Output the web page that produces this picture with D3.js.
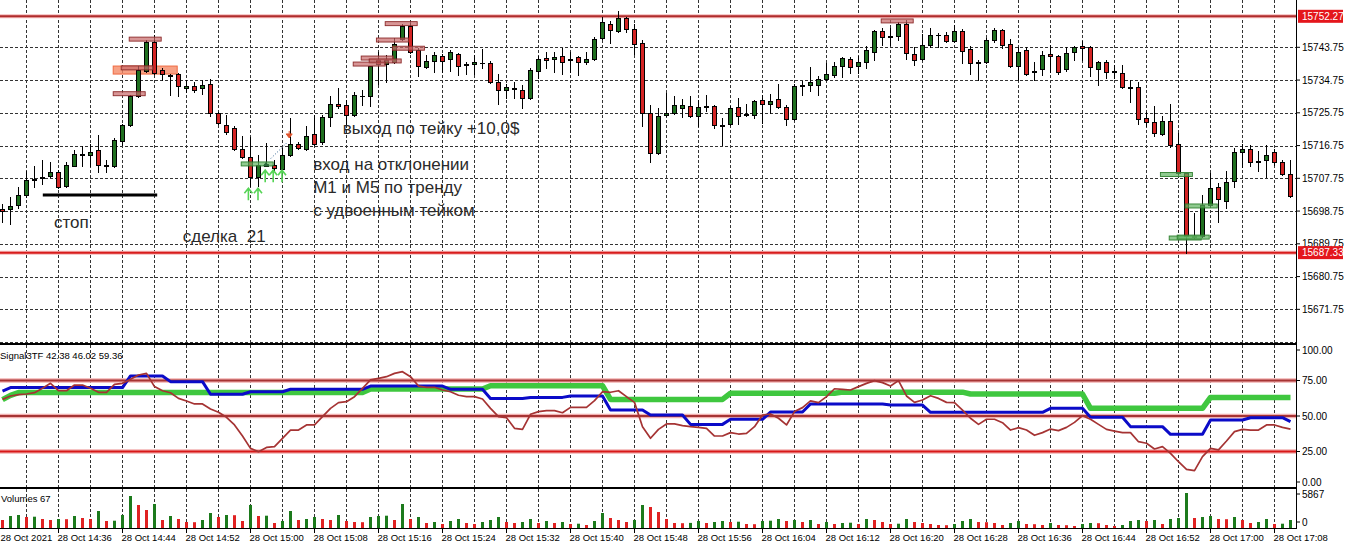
<!DOCTYPE html>
<html>
<head>
<meta charset="utf-8">
<script src="https://cdn.jsdelivr.net/npm/d3@7"></script>
<style>
body { margin: 0; background: #fff; overflow: hidden; }
</style>
</head>
<body>
<div id="chart"></div>
<script>
// M1 bars, 28 Oct 2021, 14:29 .. 17:10
var startTime = new Date(2021, 9, 28, 14, 29);

// [open, high, low, close]
var ohlc = [
[15699.25,15700.75,15695.75,15698.75],[15699.25,15702.75,15695.25,15700.25],[15700.5,15705.5,15699.5,15703.25],[15703.25,15709.75,15702.75,15707.25],
[15707.25,15711,15705.5,15707.5],[15707.75,15712.75,15706.25,15708],[15708.5,15712.25,15708.25,15709.5],[15709.5,15710,15705,15705.25],
[15705.75,15712.25,15705.5,15711.5],[15711.25,15715.5,15711,15714.5],[15714.25,15716.75,15711.25,15714.5],[15714.25,15717.25,15711,15715],
[15715.5,15719.75,15709.5,15711.5],[15711.5,15712.75,15709.5,15711],[15711,15718.75,15710.75,15718.25],[15718,15722.75,15717,15722.5],
[15722.5,15730.75,15722.25,15730.25],[15730.25,15738.5,15730,15737.5],[15737.25,15745.75,15737,15745.25],[15745.25,15747.25,15736.5,15736.75],
[15737.5,15738,15734.75,15736.5],[15736.25,15736.5,15730.75,15736],[15736.5,15736.75,15730.25,15733.25],[15732.5,15734.75,15731.5,15733.25],
[15733.25,15734.25,15731.5,15732],[15732.5,15734.75,15731,15733.5],[15733.75,15735,15724.75,15725.75],[15725.75,15726,15722.75,15723],
[15722.5,15725.25,15720,15720.5],[15721.5,15722,15715.5,15715.75],[15715.75,15719.25,15713.25,15713.5],[15713.5,15719,15705.75,15708],
[15708,15714.25,15705.75,15711.5],[15711.25,15717.5,15711,15711.75],[15711.5,15712.75,15710,15710.5],[15710.25,15716,15708.75,15714.25],
[15714.25,15724.25,15714,15717.25],[15717.25,15717.75,15715.75,15716],[15715.75,15722,15715.5,15719.5],[15720,15725.25,15717,15717.25],
[15717.75,15725.25,15717.25,15724.5],[15724.5,15730.25,15722,15728.25],[15728.25,15732.5,15727,15727.5],[15728,15729.25,15722.5,15725.25],
[15725.25,15731.5,15725,15730.75],[15730.25,15732,15728,15730.5],[15730.25,15738.75,15727.75,15738.5],[15740.25,15742.5,15733.75,15739.25],
[15739.25,15741.75,15734.25,15740.25],[15739.75,15746.25,15739.5,15744.75],[15746,15750.25,15745.75,15749.5],[15749.5,15750.5,15742.25,15742.5],
[15743,15743.5,15735.75,15738.75],[15738.25,15741.75,15738,15740],[15740,15742.5,15737,15741.5],[15741.25,15742,15737,15740],
[15740.5,15743,15737.25,15742.5],[15742,15742.25,15736.25,15738.75],[15739.25,15739.75,15736.5,15739],[15739.25,15741.75,15736.5,15739.75],
[15739.5,15743.25,15738,15739.5],[15739.5,15740,15734,15734.25],[15734.25,15736.5,15728.25,15732],[15732,15733.75,15729.75,15732.75],
[15732.25,15734.25,15729.75,15732.5],[15732,15733.5,15727,15729.75],[15729.75,15738,15729.5,15737.5],[15737.25,15741.25,15735.25,15740.5],
[15740.75,15742.5,15738,15740.25],[15740.5,15742.5,15737,15741],[15741.25,15743.5,15736.5,15739.75],[15740.25,15742.5,15737,15740.5],
[15741,15741.25,15736.25,15739.75],[15739.75,15742.5,15739.25,15740.5],[15740.5,15746.5,15740.25,15746],[15746.25,15752,15746,15750.75],
[15750.25,15751,15745,15748.5],[15748.25,15753.75,15748,15751.75],[15751.75,15752,15748,15748.75],[15748.75,15750.25,15742,15744.75],
[15745,15745.75,15722,15725.75],[15725.75,15728,15712.25,15714.75],[15714.75,15727,15714.5,15725],[15725.25,15731.25,15724.75,15725.75],
[15725.75,15730.25,15725.5,15728],[15727,15729.5,15724.5,15728],[15727.75,15730.25,15724.5,15724.75],[15724.75,15729.25,15722,15727.25],
[15727.25,15730.75,15726.25,15727.5],[15727.75,15728,15721.5,15722.5],[15722.5,15724.25,15717,15722.25],[15722.75,15727.75,15722.5,15727],
[15727.25,15729.75,15722.75,15725],[15725.25,15728.25,15725,15725.5],[15725.25,15729.25,15724.25,15729],[15729.25,15730.75,15723,15728.25],
[15728.25,15731,15725.75,15729],[15729.5,15733.75,15727,15727.25],[15727.25,15728,15722.5,15724],[15724,15733.75,15723.75,15733],
[15733.25,15734.5,15730.75,15733.5],[15733.5,15738.25,15731.75,15734.25],[15733.5,15735.75,15730.75,15735],[15735,15739.5,15734.75,15736.5],
[15736.25,15739.75,15735.5,15738.75],[15738.75,15741,15735.5,15740.75],[15740.5,15741,15736.75,15738.25],[15738.5,15741.25,15736.75,15739.75],
[15739.75,15744,15738,15743],[15742.5,15748.5,15740.25,15748.25],[15748.25,15749,15744.25,15746.5],[15746.75,15749,15744.25,15746.5],
[15746.75,15750.75,15745.75,15750.25],[15750.25,15751.25,15740.5,15742.25],[15742,15743.75,15739,15740.25],[15740.5,15747.5,15740.25,15744.25],
[15744.5,15749,15743.75,15747.25],[15747,15747.75,15743.75,15747.25],[15747.25,15748,15745.25,15745.5],[15745.5,15749.75,15745.25,15748.25],
[15748.25,15748.75,15739.5,15742.75],[15743.25,15744,15736.5,15739.5],[15739.75,15740.25,15734.75,15739.5],[15739.75,15746.25,15739.5,15745.75],
[15745.75,15749,15745.25,15748.5],[15748.5,15748.75,15743.5,15744.25],[15744.75,15746,15738.25,15738.5],[15738.5,15743.75,15734.75,15742.5],
[15743,15743.75,15736.25,15736.5],[15737.25,15739.75,15734.75,15737],[15737.75,15742.75,15736.25,15741.75],[15742,15744.5,15737,15741.25],
[15741.25,15741.75,15736.5,15737],[15737.75,15743.75,15737.25,15742.25],[15742.5,15744,15740.25,15743.75],[15744,15745.5,15740.25,15743.5],
[15743.75,15744,15735.75,15738.25],[15737.75,15740,15733.5,15739.75],[15739.75,15740.25,15735.25,15737],[15737.25,15739,15735.25,15737],
[15736.75,15739,15732.5,15732.75],[15732.75,15734.75,15728.75,15732.5],[15732.75,15734.25,15722.75,15724],[15724.25,15726,15722.25,15723.25],
[15723.25,15727.75,15719.25,15720.25],[15720,15724.75,15719.75,15723.5],[15723.5,15728.25,15716.25,15717],[15717.25,15720.25,15709,15709.25],
[15709.25,15709.25,15687.25,15692],[15691.75,15698.25,15691.25,15692],[15692,15703.25,15691.75,15700.5],[15700.5,15709.25,15700.25,15705],
[15705.5,15706.5,15695.75,15702],[15701.5,15709.75,15699.5,15706.75],[15707,15716,15705.25,15715],[15715,15717.25,15710.75,15715.75],
[15715.75,15717,15711.25,15712.25],[15712.5,15715.25,15709.75,15712.25],[15712.75,15717,15708,15714.25],[15715,15715.75,15711.5,15712.25],
[15712.25,15712.75,15708.75,15709],[15709,15712.75,15702.75,15703]
];

var volumes = [
1341,2011,2179,1844,1894,1508,1341,1508,1475,2011,1676,1508,2849,1173,1223,2179,5363,3855,3017,4022,
1341,2011,1508,1006,972,1341,2514,1844,2179,2145,1173,3855,2011,2062,838,1173,2849,1341,1508,1844,
1508,1341,2179,1173,1006,972,1844,2011,2062,1341,4022,1508,1844,838,1006,670,1173,1508,838,670,
1006,1341,1844,1006,838,1006,1508,838,1173,838,1006,670,720,503,1173,2514,1676,1341,1006,1341,
3855,3520,2682,1508,838,804,855,1173,838,1006,1173,1006,1056,670,637,1173,1223,1508,1173,1341,
1006,1341,670,1006,670,838,888,670,1508,1341,1006,670,720,1508,1006,838,670,503,470,670,
1173,1508,1006,972,838,503,838,1173,670,637,503,838,503,470,335,670,838,804,503,335,
503,1173,1341,1173,1341,670,1508,1676,5867,1676,1844,2011,1508,1475,1844,1341,838,1006,1508,670,
720,1341
];

// Signal3TF: fast line (brown), M5 line (blue), M15 line (green)
var signalLine = [
61.7,64.1,65.0,65.5,66.4,69.5,73.0,67.8,67.8,71.8,71.8,69.5,66.7,66.7,72.3,73.0,75.8,78.9,80.0,70.7,
67.8,66.4,62.4,60.6,58.5,58.5,54.9,52.6,49.1,43.7,35.9,27.2,24.9,27.9,28.4,34.3,40.1,40.1,43.7,43.7,
49.5,55.4,59.4,60.1,63.6,69.5,75.4,76.5,77.7,80.0,81.2,77.7,71.1,70.2,70.2,68.3,67.1,64.6,63.6,63.6,
62.0,55.4,49.5,48.8,41.3,40.6,51.2,53.1,53.8,53.8,52.3,56.1,56.1,56.1,60.8,67.1,66.7,67.8,63.6,59.6,
42.5,34.3,40.6,44.4,44.4,43.2,42.5,42.0,41.3,35.9,35.9,38.3,37.3,37.8,42.5,50.7,51.4,48.4,43.7,53.1,
55.9,60.6,59.4,63.6,69.2,68.8,68.3,70.7,73.0,74.9,73.5,71.1,74.9,64.1,59.6,61.3,64.3,62.4,59.6,59.4,
54.2,48.4,44.1,47.7,47.7,45.3,40.1,41.8,40.1,36.4,38.3,40.8,39.7,42.0,45.5,50.2,47.7,44.1,40.6,39.4,
38.3,38.3,31.9,30.8,26.8,28.4,23.7,17.8,12.4,11.5,21.4,27.2,26.1,32.4,39.0,40.6,40.1,40.1,43.7,43.7,
42.0,40.8
];
// [first bar, value] - the value holds until the next step
var blueSteps = [[0,67.6],[1,70.0],[16,78.2],[21,74.2],[26,65.3],[31,67.1],[36,68.8],[46,71.1],[56,68.8],[61,62.4],
  [66,63.1],[71,64.1],[76,54.2],[81,50.7],[86,44.1],[91,47.7],[96,52.8],[101,58.5],[111,57.7],[116,52.6],
  [131,55.4],[136,49.1],[141,42.5],[146,37.1],[151,47.2],[156,48.8],[161,46.0]];
var greenSteps = [[0,61.5],[1,64.5],[2,66.5],[46,69.0],[61,71.3],[76,61.7],[91,66.0],[105,66.8],[121,65.5],[136,55.4],[151,63.1]];
var indicatorLabel = "Signal3TF 42.38 46.02 59.36";
var volumeLabel = "Volumes 67";

var priceGrid = [15752.75,15743.75,15734.75,15725.75,15716.75,15707.75,15698.75,15689.75,15680.75,15671.75,15662.75];
var priceLines = [15752.27, 15687.33];
var indLevels = [75, 50, 25];
var indTicks = [100, 75, 50, 25, 0];
var volTicks = [5867, 0];
var timeTicks = ["14:28","14:36","14:44","14:52","15:00","15:08","15:16","15:24","15:32","15:40","15:48",
  "15:56","16:04","16:12","16:20","16:28","16:36","16:44","16:52","17:00","17:08"];

// trade objects: [centre bar, price]
var sellMarks = [[17.9,15746.0],[15.9,15731.0],[16.9,15738.1],[49.9,15750.25],[48.8,15745.75],[50.8,15743.5],
  [46.9,15740.8],[47.9,15740.0],[45.9,15739.15],[111.9,15751.0]];
var buyMarks = [[31.9,15711.7],[146.8,15708.8],[149.9,15700.15],[147.9,15691.35],[148.9,15691.6]];
var takeZone = [13.9, 21.9, 15738.6, 15736.4];
var stopLine = [5.1, 19.4, 15703.2];
var upArrows = [[30.8,15705.0],[32.0,15705.0],[32.9,15710.0],[33.9,15710.0],[35.0,15710.0]];
var notes = [
  {bar: 42.6, price: 15719.9, text: "выход по тейку +10,0$"},
  {bar: 38.9, price: 15710.0, text: "вход на отклонении"},
  {bar: 38.9, price: 15703.7, text: "M1 и M5 по тренду"},
  {bar: 38.9, price: 15697.4, text: "с удвоенным тейком"},
  {bar: 6.5, price: 15694.1, text: "стоп"},
  {bar: 22.6, price: 15690.25, text: "сделка  21"}
];

(function () {
    var width = 1359, height = 558;
    var axisX = 1296;
    var mainTop = 0, mainBottom = 343, indTop = 345, indBottom = 487, volTop = 489, volBottom = 528;
    var font = "'Liberation Sans', Arial, sans-serif";

    var svg = d3.select("#chart").append("svg")
        .attr("width", width)
        .attr("height", height)
        .style("font-family", font);

    svg.append("rect").attr("width", width).attr("height", height).attr("fill", "#fff");

    function barTime(i) { return new Date(+startTime + i * 60000); }
    var x = d3.scaleTime().domain([startTime, barTime(ohlc.length - 1)]).range([2, 1290]);
    function xAt(i) { return x(barTime(i)); }
    function crisp(v) { return Math.round(v) + 0.5; }

    var yP = d3.scaleLinear().domain([15662.5, 15756.75]).range([mainBottom, mainTop]);
    var yI = d3.scaleLinear().domain([0, 100]).range([indBottom, indTop]);
    var yV = d3.scaleLinear().domain([0, 5867]).range([volBottom, 493]);

    // vertical grid every 4 bars, in each panel
    var gridBars = d3.range(3, ohlc.length, 4);
    [[mainTop, mainBottom], [indTop, indBottom], [volTop, volBottom]].forEach(function (p) {
        svg.append("g").selectAll("line")
            .data(gridBars)
            .join("line")
            .attr("x1", function (d) { return crisp(xAt(d)); })
            .attr("x2", function (d) { return crisp(xAt(d)); })
            .attr("y1", p[0])
            .attr("y2", p[1])
            .attr("stroke", "#333")
            .attr("stroke-dasharray", "3,2");
    });

    svg.append("g").selectAll("line")
        .data(priceGrid)
        .join("line")
        .attr("x1", 0)
        .attr("x2", axisX)
        .attr("y1", function (d) { return crisp(yP(d)); })
        .attr("y2", function (d) { return crisp(yP(d)); })
        .attr("stroke", "#333")
        .attr("stroke-dasharray", "3,2");

    // horizontal price levels
    var levelColors = ["#b02c2c", "#d81c1c"];
    priceLines.forEach(function (p, k) {
        svg.append("line").attr("x1", 0).attr("x2", axisX)
            .attr("y1", yP(p)).attr("y2", yP(p))
            .attr("stroke", "#f4b8b8").attr("stroke-width", 4);
        svg.append("line").attr("x1", 0).attr("x2", axisX)
            .attr("y1", yP(p)).attr("y2", yP(p))
            .attr("stroke", levelColors[k]).attr("stroke-width", 2);
    });

    // take-profit zone (behind candles)
    svg.append("rect")
        .attr("x", xAt(takeZone[0]))
        .attr("y", yP(takeZone[2]))
        .attr("width", xAt(takeZone[1]) - xAt(takeZone[0]))
        .attr("height", yP(takeZone[3]) - yP(takeZone[2]))
        .attr("fill", "#f58a66")
        .attr("fill-opacity", 0.8)
        .attr("stroke", "#f06a40");

    // candles
    var candles = svg.append("g").selectAll("g")
        .data(ohlc)
        .join("g");

    candles.append("line")
        .attr("x1", function (d, i) { return crisp(xAt(i)); })
        .attr("x2", function (d, i) { return crisp(xAt(i)); })
        .attr("y1", function (d) { return Math.round(yP(d[1])); })
        .attr("y2", function (d) { return Math.round(yP(d[2])) + 1; })
        .attr("stroke", "#000");

    candles.append("rect")
        .attr("x", function (d, i) { return Math.round(xAt(i)) - 1.5; })
        .attr("y", function (d) { return crisp(yP(Math.max(d[0], d[3]))); })
        .attr("width", 4)
        .attr("height", function (d) {
            return Math.max(0.01, crisp(yP(Math.min(d[0], d[3]))) - crisp(yP(Math.max(d[0], d[3]))));
        })
        .attr("fill", function (d) { return d[3] > d[0] ? "#1f6f1f" : (d[3] < d[0] ? "#d42424" : "#000"); })
        .attr("stroke", "#000");

    // sell / buy marks
    function marks(data, fill, stroke) {
        svg.append("g").selectAll("rect")
            .data(data)
            .join("rect")
            .attr("x", function (d) { return xAt(d[0] - 2); })
            .attr("y", function (d) { return yP(d[1]) - 2; })
            .attr("width", function (d) { return xAt(d[0] + 2) - xAt(d[0] - 2); })
            .attr("height", 4)
            .attr("fill", fill)
            .attr("fill-opacity", 0.7)
            .attr("stroke", stroke)
            .attr("stroke-width", 0.9);
    }
    marks(sellMarks, "#c86a6a", "#8c2a2a");
    marks(buyMarks, "#5fb35f", "#2f7f2f");

    // stop line
    svg.append("line")
        .attr("x1", xAt(stopLine[0])).attr("x2", xAt(stopLine[1]))
        .attr("y1", yP(stopLine[2])).attr("y2", yP(stopLine[2]))
        .attr("stroke", "#000").attr("stroke-width", 3);

    // entry arrows
    svg.append("g").selectAll("path")
        .data(upArrows)
        .join("path")
        .attr("d", function (d) {
            var ax = xAt(d[0]), ay = yP(d[1]);
            return "M" + ax + "," + (ay + 12) + "V" + ay + "M" + (ax - 4) + "," + (ay + 5) + "L" + ax + "," + ay + "L" + (ax + 4) + "," + (ay + 5);
        })
        .attr("fill", "none")
        .attr("stroke", "#55d455")
        .attr("stroke-width", 1.6);

    // small markers and trade line
    svg.append("path")
        .attr("d", "M" + (xAt(33.0) - 3) + "," + (yP(15711.7) + 2) + "l3,-4l3,4z")
        .attr("fill", "#2a6a3a");
    svg.append("path")
        .attr("d", "M" + (xAt(35.9) - 3) + "," + (yP(15719.4) - 2) + "h6l-3,4z M" + xAt(35.9) + "," + (yP(15719.4) - 5) + "v3")
        .attr("fill", "#e0542c").attr("stroke", "#e0542c");
    svg.append("line")
        .attr("x1", xAt(33.6)).attr("y1", yP(15713.2))
        .attr("x2", xAt(35.6)).attr("y2", yP(15717.5))
        .attr("stroke", "#2a5f8f").attr("stroke-dasharray", "1,2");

    // annotations
    svg.append("g").selectAll("text")
        .data(notes)
        .join("text")
        .attr("x", function (d) { return xAt(d.bar); })
        .attr("y", function (d) { return yP(d.price); })
        .attr("font-size", "17px")
        .attr("fill", "#2a2a2a")
        .style("white-space", "pre")
        .text(function (d) { return d.text; });

    // indicator panel
    indLevels.forEach(function (v, k) {
        var c = k === 2 ? "#d81818" : "#a63434";
        svg.append("line").attr("x1", 0).attr("x2", axisX).attr("y1", yI(v)).attr("y2", yI(v))
            .attr("stroke", "#f2b0b0").attr("stroke-width", 4.5);
        svg.append("line").attr("x1", 0).attr("x2", axisX).attr("y1", yI(v)).attr("y2", yI(v))
            .attr("stroke", c).attr("stroke-width", 2);
    });

    function expand(steps) {
        return ohlc.map(function (d, i) {
            var v = steps[0][1];
            steps.forEach(function (s) { if (s[0] <= i) v = s[1]; });
            return v;
        });
    }
    var line = d3.line()
        .x(function (d, i) { return xAt(i) + 0.5; })
        .y(function (d) { return yI(d); });

    svg.append("path").datum(expand(greenSteps)).attr("d", line)
        .attr("fill", "none").attr("stroke", "#3fc73f").attr("stroke-width", 5.5).attr("stroke-linejoin", "round");
    svg.append("path").datum(expand(blueSteps)).attr("d", line)
        .attr("fill", "none").attr("stroke", "#0b0bc8").attr("stroke-width", 3).attr("stroke-linejoin", "round");
    svg.append("path").datum(signalLine).attr("d", line)
        .attr("fill", "none").attr("stroke", "#a53333").attr("stroke-width", 1.7).attr("stroke-linejoin", "round");

    svg.append("text").attr("x", 0).attr("y", 359)
        .attr("font-size", "9.5px").attr("fill", "#000")
        .text(indicatorLabel);

    // volumes
    svg.append("g").selectAll("rect")
        .data(volumes)
        .join("rect")
        .attr("x", function (d, i) { return Math.round(xAt(i)) - 1; })
        .attr("y", function (d) { return yV(d); })
        .attr("width", 3)
        .attr("height", function (d) { return volBottom - yV(d); })
        .attr("fill", function (d, i) { return i > 0 && d > volumes[i - 1] ? "#1c7a1c" : "#e02222"; });

    svg.append("text").attr("x", 1).attr("y", 502)
        .attr("font-size", "9.5px").attr("fill", "#000")
        .text(volumeLabel);

    // panel borders
    svg.append("line").attr("x1", 0).attr("x2", axisX).attr("y1", 344).attr("y2", 344).attr("stroke", "#000").attr("stroke-width", 2);
    svg.append("line").attr("x1", 0).attr("x2", axisX).attr("y1", 488).attr("y2", 488).attr("stroke", "#000").attr("stroke-width", 2);
    svg.append("line").attr("x1", 0).attr("x2", axisX).attr("y1", volBottom + 0.5).attr("y2", volBottom + 0.5).attr("stroke", "#000");
    svg.append("line").attr("x1", axisX + 0.5).attr("x2", axisX + 0.5).attr("y1", 0).attr("y2", volBottom + 1).attr("stroke", "#000");

    // right axis labels
    function axisLabels(values, yFn, lo, hi, fmt) {
        var g = svg.append("g").selectAll("g").data(values).join("g")
            .attr("transform", function (d) { return "translate(0," + Math.max(lo, Math.min(hi, yFn(d))) + ")"; });
        g.append("line").attr("x1", axisX).attr("x2", axisX + 4).attr("stroke", "#000");
        g.append("text").attr("x", axisX + 6).attr("dy", "0.35em")
            .attr("font-size", "10px").attr("fill", "#000")
            .text(fmt);
    }
    axisLabels(priceGrid.slice(1, -1), yP, 0, 343, function (d) { return d.toFixed(2); });
    axisLabels(indTicks, yI, 350, 482, function (d) { return d.toFixed(2); });
    axisLabels(volTicks, yV, 494, 522, function (d) { return d; });

    // current price boxes
    var boxes = svg.append("g").selectAll("g").data(priceLines).join("g")
        .attr("transform", function (d) { return "translate(0," + yP(d) + ")"; });
    boxes.append("rect").attr("x", axisX + 2).attr("y", -6.5).attr("width", 45).attr("height", 13).attr("fill", "#e4161c");
    boxes.append("text").attr("x", axisX + 6).attr("dy", "0.35em")
        .attr("font-size", "10px").attr("fill", "#fff")
        .text(function (d) { return d.toFixed(2); });

    // time axis
    var parseHM = d3.timeParse("%Y-%m-%d %H:%M");
    var tickDates = timeTicks.map(function (t) { return parseHM("2021-10-28 " + t); });
    var fmtFirst = d3.timeFormat("%d %b %Y"), fmtRest = d3.timeFormat("%d %b %H:%M");
    var tg = svg.append("g").selectAll("g").data(tickDates).join("g")
        .attr("transform", function (d) { return "translate(" + crisp(x(d)) + ",0)"; });
    tg.append("line").attr("y1", volBottom + 1).attr("y2", volBottom + 5).attr("stroke", "#000");
    tg.append("text").attr("x", function (d, i) { return i === 0 ? 6 : -1; }).attr("y", 541)
        .attr("font-size", "9.5px").attr("fill", "#000")
        .text(function (d, i) { return i === 0 ? fmtFirst(d) : fmtRest(d); });
})();
</script>
</body>
</html>
